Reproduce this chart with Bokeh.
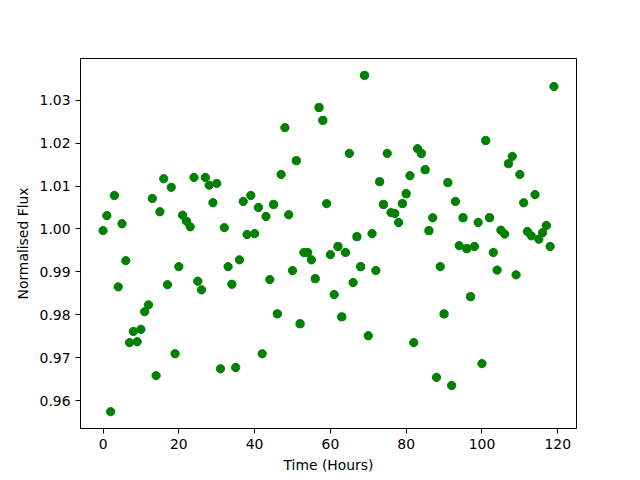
import numpy as np
from bokeh.plotting import figure
from bokeh.models import Range1d, FixedTicker, PrintfTickFormatter
from bokeh.embed import file_html
from bokeh.resources import INLINE

hours = list(range(120))
flux = [
    0.9996, 1.0031, 0.9574, 1.0078, 0.9865, 1.0012, 0.9926, 0.9735, 0.9761, 0.9737,
    0.9766, 0.9807, 0.9823, 1.0071, 0.9658, 1.0040, 1.0117, 0.9870, 1.0097, 0.9709,
    0.9912, 1.0032, 1.0018, 1.0005, 1.0120, 0.9878, 0.9858, 1.0120, 1.0102, 1.0061,
    1.0106, 0.9674, 1.0003, 0.9912, 0.9871, 0.9677, 0.9928, 1.0064, 0.9987, 1.0078,
    0.9989, 1.0050, 0.9709, 1.0029, 0.9882, 1.0057, 0.9802, 1.0127, 1.0236, 1.0033,
    0.9903, 1.0159, 0.9779, 0.9945, 0.9945, 0.9928, 0.9884, 1.0283, 1.0253, 1.0059,
    0.9940, 0.9847, 0.9959, 0.9795, 0.9945, 1.0176, 0.9875, 0.9982, 0.9912, 1.0358,
    0.9751, 0.9989, 0.9903, 1.0110, 1.0057, 1.0176, 1.0038, 1.0036, 1.0015, 1.0059,
    1.0082, 1.0124, 0.9735, 1.0187, 1.0176, 1.0138, 0.9996, 1.0026, 0.9654, 0.9912,
    0.9802, 1.0108, 0.9635, 1.0064, 0.9961, 1.0026, 0.9954, 0.9842, 0.9959, 1.0015,
    0.9686, 1.0206, 1.0026, 0.9945, 0.9904, 0.9997, 0.9988, 1.0152, 1.0169, 0.9893,
    1.0127, 1.0061, 0.9994, 0.9984, 1.0080, 0.9976, 0.9991, 1.0008, 0.9959, 1.0332,
]
x_ticks = [0, 20, 40, 60, 80, 100, 120]
y_ticks = [0.96, 0.97, 0.98, 0.99, 1.00, 1.01, 1.02, 1.03]

xmin, xmax = min(hours), max(hours)
ymin, ymax = min(flux), max(flux)
xm = 0.05 * (xmax - xmin)
ym = 0.05 * (ymax - ymin)

p = figure(
    output_backend="svg", toolbar_location=None,
    frame_width=496, frame_height=370,
    min_border_left=80, min_border_right=64, min_border_top=58, min_border_bottom=52,
    x_range=Range1d(xmin - xm, xmax + xm), y_range=Range1d(ymin - ym, ymax + ym),
)
p.scatter(hours, flux, size=8.3, color="#008000", line_color="#008000")

p.grid.visible = False
p.outline_line_color = "black"
p.outline_line_width = 1
p.background_fill_color = "white"
p.border_fill_color = "white"

p.xaxis.ticker = FixedTicker(ticks=x_ticks)
p.yaxis.ticker = FixedTicker(ticks=y_ticks)
p.yaxis.formatter = PrintfTickFormatter(format="%.2f")
p.xaxis.axis_label = "Time (Hours)"
p.yaxis.axis_label = "Normalised Flux"

for ax in (p.xaxis, p.yaxis):
    ax.axis_line_color = "black"
    ax.major_tick_line_color = "black"
    ax.major_tick_in = 0
    ax.major_tick_out = 5
    ax.minor_tick_line_color = None
    ax.major_label_text_font = "DejaVu Sans"
    ax.major_label_text_font_size = "13.9px"
    ax.major_label_text_color = "black"
    ax.axis_label_text_font = "DejaVu Sans"
    ax.axis_label_text_font_size = "13.9px"
    ax.axis_label_text_font_style = "normal"
    ax.axis_label_text_color = "black"
    ax.major_label_standoff = 5
p.xaxis.axis_label_standoff = 5
p.yaxis.axis_label_standoff = 6

open("out.html", "w").write(file_html(p, INLINE))
